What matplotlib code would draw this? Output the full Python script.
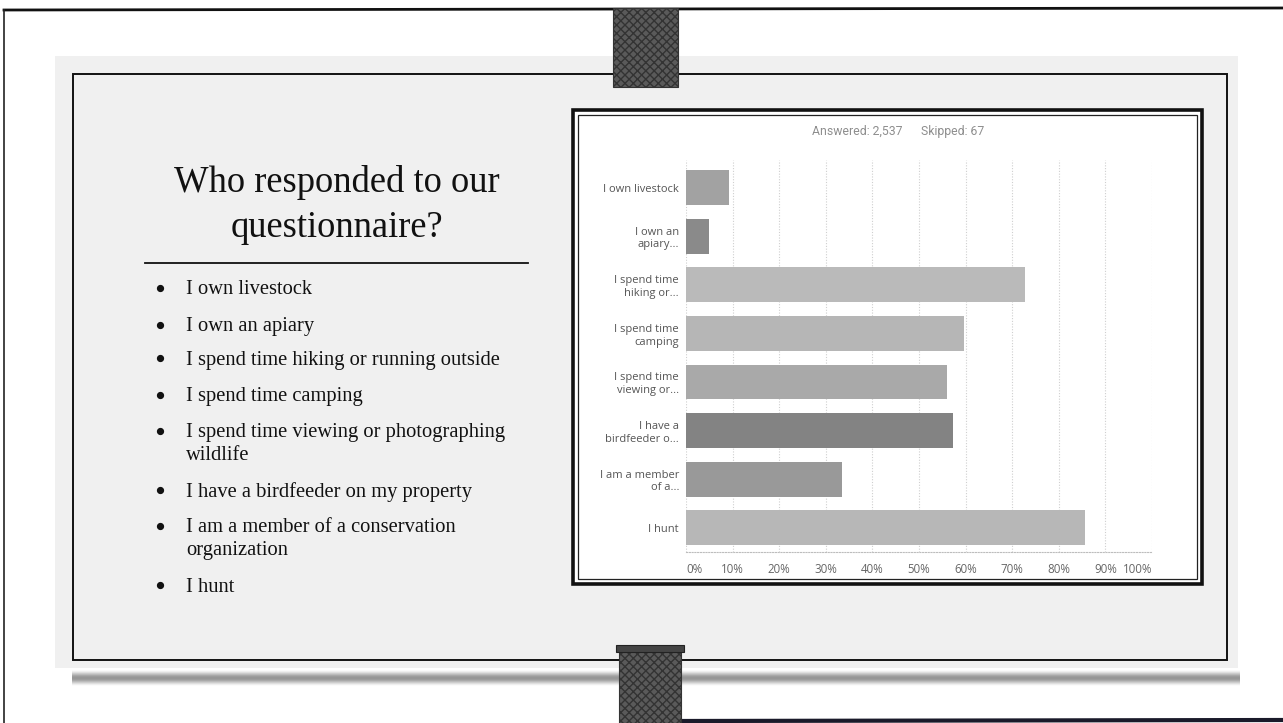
import numpy as np
import matplotlib
matplotlib.use("Agg")
import matplotlib.pyplot as plt
from matplotlib.patches import Rectangle

# survey data (percent of respondents)
categorias = ["I own livestock", "I own an\napiary...", "I spend time\nhiking or...",
              "I spend time\ncamping", "I spend time\nviewing or...", "I have a\nbirdfeeder o...",
              "I am a member\nof a...", "I hunt"]
valores = [9.3, 5.0, 72.7, 59.7, 56.0, 57.4, 33.4, 85.6]
colores = ['#a2a2a2', '#8a8a8a', '#bababa', '#b6b6b6', '#a9a9a9', '#838383', '#999999', '#b7b7b7']
ticks = [0, 10, 20, 30, 40, 50, 60, 70, 80, 90, 100]
tick_labels = ["0%", "10%", "20%", "30%", "40%", "50%", "60%", "70%", "80%", "90%", "100%"]
respondidas = "Answered: 2,537"
omitidas = "Skipped: 67"

titulo = ["Who responded to our", "questionnaire?"]
vinetas = [["I own livestock"], ["I own an apiary"], ["I spend time hiking or running outside"],
           ["I spend time camping"], ["I spend time viewing or photographing", "wildlife"],
           ["I have a birdfeeder on my property"], ["I am a member of a conservation", "organization"],
           ["I hunt"]]
vinetas_y = [290, 327, 360, 397, 433, 492, 528, 587]

W, H = 1283, 723
fig = plt.figure(figsize=(W / 100, H / 100), dpi=100)
fig.patch.set_facecolor('white')

# fondo: pagina escaneada con la diapositiva
fondo = fig.add_axes([0, 0, 1, 1])
fondo.set_xlim(0, W)
fondo.set_ylim(H, 0)
fondo.axis('off')

fondo.plot([4, W], [10, 8], color='#111111', lw=2.0)
fondo.plot([4, 4], [10, H], color='#222222', lw=1.2)
fondo.plot([680, W], [721, 720], color='#1a1a2a', lw=3.0)

fondo.add_patch(Rectangle((55, 56), 1183, 612, facecolor='#f0f0f0', edgecolor='none'))
fondo.add_patch(Rectangle((73, 74), 1154, 586, facecolor='none', edgecolor='#111111', lw=1.4))

# sombra inferior
grad = np.linspace(0, 1, 30).reshape(-1, 1) * np.ones((1, 10))
grad = np.sin(grad * np.pi)
fondo.imshow(grad, extent=(72, 1240, 686, 670), cmap='Greys', vmin=0, vmax=2.0,
             aspect='auto', zorder=1)

# pinzas
fondo.add_patch(Rectangle((613, 8), 65, 79, facecolor='#5a5a5a', edgecolor='#333333',
                          lw=0.8, hatch='xxxx', zorder=3))
fondo.add_patch(Rectangle((619, 650), 62, 73, facecolor='#5a5a5a', edgecolor='#333333',
                          lw=0.8, hatch='xxxx', zorder=3))
fondo.add_patch(Rectangle((616, 645), 68, 7, facecolor='#444444', edgecolor='#222222',
                          lw=0.8, zorder=3))

# marco del grafico
fondo.add_patch(Rectangle((573, 110), 629, 474, facecolor='white', edgecolor='#111111',
                          lw=2.6, zorder=2))
fondo.add_patch(Rectangle((578, 115), 619, 464, facecolor='none', edgecolor='#222222',
                          lw=0.9, zorder=2))

fondo.text(812, 131, respondidas, fontsize=8.8, color='#8e8e8e', family='Roboto',
           ha='left', va='center', zorder=4)
fondo.text(921, 131, omitidas, fontsize=8.8, color='#8e8e8e', family='Roboto',
           ha='left', va='center', zorder=4)

# texto de la izquierda
for linea, yy in zip(titulo, [182, 228]):
    fondo.text(337, yy, linea, fontsize=26.3, family='Liberation Serif', color='#111111',
               ha='center', va='center', zorder=4)
fondo.plot([145, 528], [263, 263], color='#111111', lw=1.3, zorder=4)
for lineas, yy in zip(vinetas, vinetas_y):
    fondo.plot(160, yy - 2.5, 'o', ms=4.2, color='#111111', zorder=4)
    for k, txt in enumerate(lineas):
        fondo.text(186, yy + 23 * k, txt, fontsize=14.8, family='Liberation Serif',
                   color='#111111', ha='left', va='center', zorder=4)

# grafico de barras
ax = fig.add_axes([686 / W, 1 - 552 / H, 466 / W, 392 / H], zorder=5)
ax.patch.set_alpha(0)
pos = np.arange(len(categorias))
ax.barh(pos, valores, height=0.72, color=colores, lw=0, zorder=3)
ax.set_xlim(0, 100)
ax.set_ylim(7.5, -0.57)
ax.set_yticks(pos)
ax.set_yticklabels(categorias, fontsize=8, family='Open Sans', color='#555555',
                   linespacing=1.2)
ax.tick_params(axis='y', length=0, pad=5)
ax.set_xticks(ticks)
ax.set_xticklabels(tick_labels, fontsize=8.3, family='Open Sans', color='#666666')
ax.tick_params(axis='x', length=0, pad=8)
etq = ax.get_xticklabels()
etq[0].set_ha('left')
etq[-1].set_ha('right')
ax.xaxis.grid(True, color='#cfcfcf', linestyle=(0, (1, 1.5)), lw=0.8, zorder=0)
for s in ['top', 'right', 'left']:
    ax.spines[s].set_visible(False)
ax.spines['bottom'].set_color('#bdbdbd')
ax.spines['bottom'].set_linestyle((0, (1, 1.5)))
ax.spines['bottom'].set_linewidth(0.8)

fig.savefig('out.png', dpi=100)
